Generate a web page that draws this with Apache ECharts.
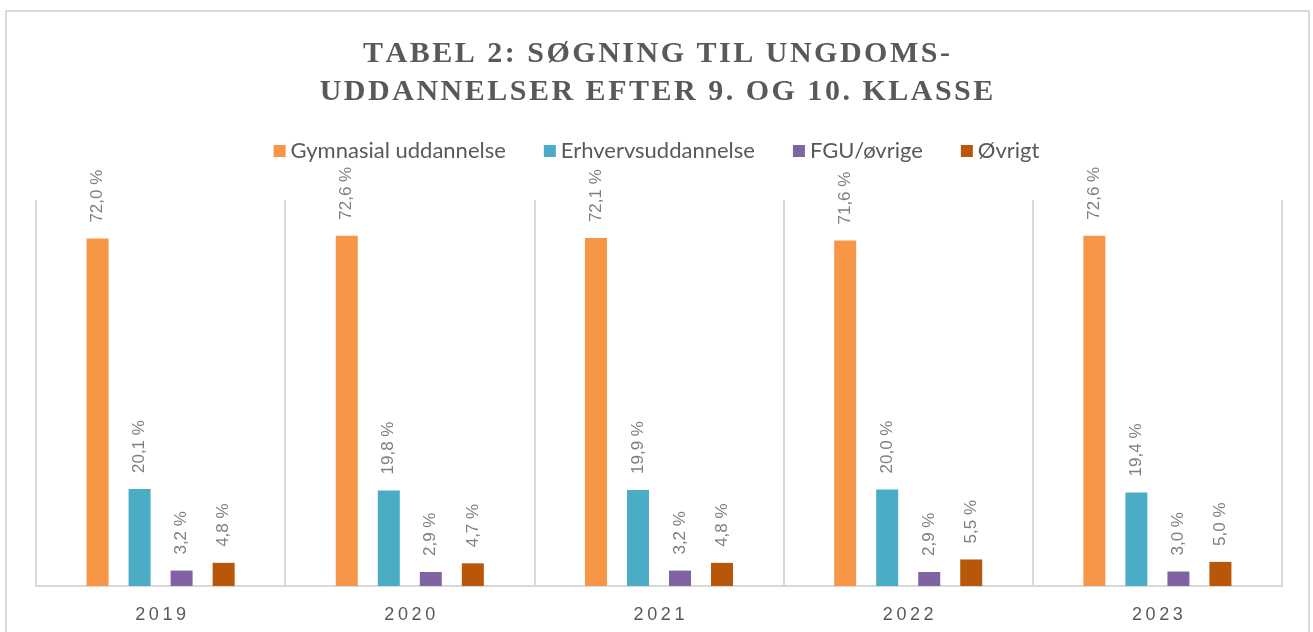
<!DOCTYPE html>
<html>
<head>
<meta charset="utf-8">
<script src="https://cdn.jsdelivr.net/npm/echarts@6/dist/echarts.min.js"></script>
<style>
  html, body { margin: 0; padding: 0; background: #fff; }
  #chart { width: 1313px; height: 632px; }
</style>
</head>
<body>
<div id="chart"></div>
<script>
// år og serier
const years = ['2019', '2020', '2021', '2022', '2023'];
const seriesNames = ['Gymnasial uddannelse', 'Erhvervsuddannelse', 'FGU/øvrige', 'Øvrigt'];
const gymnasial = [72.0, 72.6, 72.1, 71.6, 72.6];
const erhverv = [20.1, 19.8, 19.9, 20.0, 19.4];
const fgu = [3.2, 2.9, 3.2, 2.9, 3.0];
const oevrigt = [4.8, 4.7, 4.8, 5.5, 5.0];
const colors = ['#F79646', '#4BACC6', '#8064A2', '#B8560A'];

const titleLines = ['TABEL 2: SØGNING TIL UNGDOMS-', 'UDDANNELSER EFTER 9. OG 10. KLASSE'];

// spærret tekst (letter spacing) med hair spaces
function spaced(s, sep) {
  return s.split('').join(sep);
}

let chartDom = document.getElementById('chart');
let myChart = echarts.init(chartDom);

function makeSeries(name, data, color) {
  return {
    name: name,
    type: 'bar',
    data: data,
    barWidth: 22,
    barGap: '91%',
    itemStyle: { color: color },
    label: {
      show: true,
      position: 'top',
      rotate: 90,
      align: 'left',
      verticalAlign: 'middle',
      distance: 16,
      color: '#7f7f7f',
      fontSize: 17,
      fontFamily: 'Liberation Sans',
      formatter: p => p.value.toFixed(1).replace('.', ',') + ' %'
    }
  };
}

let option = {
  animation: false,
  color: colors,
  title: {
    text: titleLines.map(l => spaced(l, '\u200A')).join('\n'),
    left: 'center',
    top: 30,
    textStyle: {
      fontFamily: 'Liberation Serif',
      fontWeight: 'bold',
      fontSize: 30,
      lineHeight: 38,
      color: '#595959'
    }
  },
  legend: {
    top: 135,
    left: 'center',
    itemWidth: 12,
    itemHeight: 12,
    itemGap: 38,
    icon: 'rect',
    textStyle: { fontFamily: 'Lato', fontSize: 22, color: '#595959' },
    data: seriesNames
  },
  grid: { left: 36, right: 31, top: 200, bottom: 46, containLabel: false },
  xAxis: {
    type: 'category',
    data: years,
    axisLine: { lineStyle: { color: '#d9d9d9', width: 2 } },
    axisTick: { show: false },
    splitLine: { show: true, interval: 0, lineStyle: { color: '#d9d9d9', width: 2 } },
    axisLabel: {
      fontFamily: 'Liberation Sans',
      fontSize: 18,
      color: '#595959',
      margin: 20,
      formatter: v => spaced(v, '\u2009')
    }
  },
  yAxis: {
    type: 'value',
    min: 0,
    max: 80,
    show: false,
    splitLine: { show: false }
  },
  graphic: [{
    type: 'rect',
    shape: { x: 6, y: 11, width: 1303, height: 640 },
    style: { fill: null, stroke: '#d9d9d9', lineWidth: 2 },
    silent: true
  }],
  series: [
    makeSeries(seriesNames[0], gymnasial, colors[0]),
    makeSeries(seriesNames[1], erhverv, colors[1]),
    makeSeries(seriesNames[2], fgu, colors[2]),
    makeSeries(seriesNames[3], oevrigt, colors[3])
  ]
};

option && myChart.setOption(option);
</script>
</body>
</html>
